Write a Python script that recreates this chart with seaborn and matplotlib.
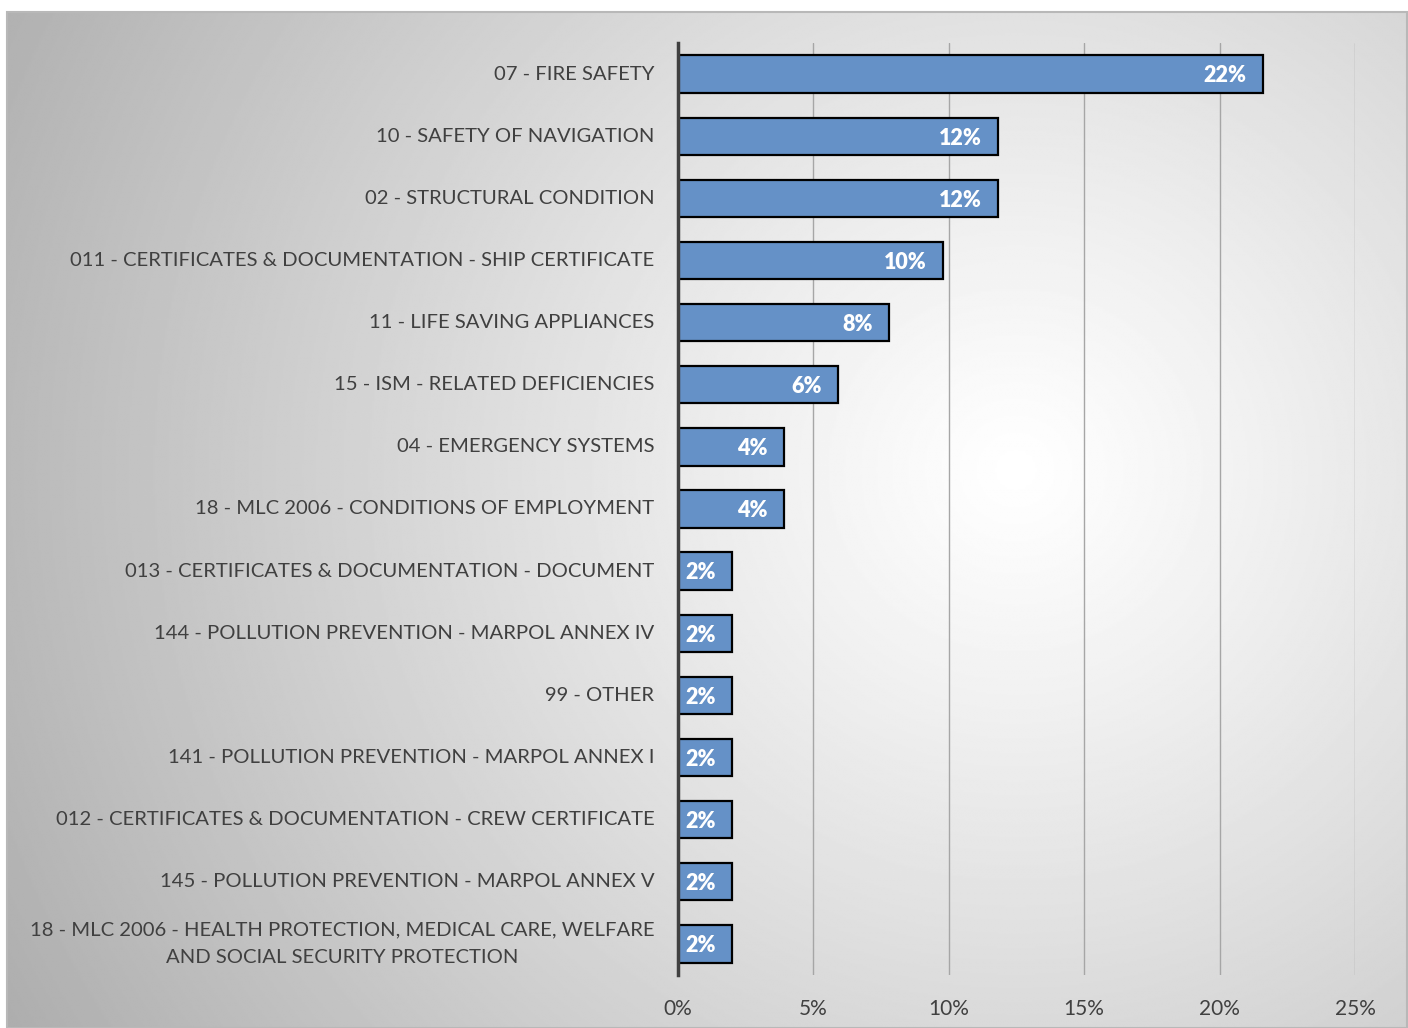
import numpy as np
import pandas as pd
import matplotlib
matplotlib.use("Agg")
import matplotlib.pyplot as plt
import seaborn as sns
from matplotlib.patches import Rectangle
from matplotlib.ticker import PercentFormatter

# categorias y porcentaje de deficiencias
categorias = [
    "07 - FIRE SAFETY",
    "10 - SAFETY OF NAVIGATION",
    "02 - STRUCTURAL CONDITION",
    "011 - CERTIFICATES & DOCUMENTATION - SHIP CERTIFICATE",
    "11 - LIFE SAVING APPLIANCES",
    "15 - ISM - RELATED DEFICIENCIES",
    "04 - EMERGENCY SYSTEMS",
    "18 - MLC 2006 - CONDITIONS OF EMPLOYMENT",
    "013 - CERTIFICATES & DOCUMENTATION - DOCUMENT",
    "144 - POLLUTION PREVENTION - MARPOL ANNEX IV",
    "99 - OTHER",
    "141 - POLLUTION PREVENTION - MARPOL ANNEX I",
    "012 - CERTIFICATES & DOCUMENTATION - CREW CERTIFICATE",
    "145 - POLLUTION PREVENTION - MARPOL ANNEX V",
    "18 - MLC 2006 - HEALTH PROTECTION, MEDICAL CARE, WELFARE\nAND SOCIAL SECURITY PROTECTION",
]
porcentajes = [21.6, 11.8, 11.8, 9.8, 7.8, 5.9, 3.9, 3.9, 2.0, 2.0, 2.0, 2.0, 2.0, 2.0, 2.0]
ticks_x = [0, 5, 10, 15, 20, 25]

df = pd.DataFrame({"categoria": categorias, "pct": porcentajes})

sns.set_theme(style="white")
plt.rcParams["font.family"] = ["Lato", "DejaVu Sans"]
gris = "#404040"

fig = plt.figure(figsize=(14.08, 10.28), dpi=100)
W, H = 1408, 1028

# fondo con degradado radial
bg = fig.add_axes([7 / W, 0, 1400 / W, 1 - 12 / H], zorder=-10)
yy, xx = np.mgrid[0:600, 0:800]
cx, cy = 0.72 * 800, 0.45 * 600
r = np.sqrt(((xx - cx) / 800) ** 2 + ((yy - cy) / 600 * 0.75) ** 2)
val = 1.0 - 0.32 * (r / r.max()) ** 1.1
val = np.clip(val, 0, 1)
bg.imshow(val, cmap="gray", vmin=0, vmax=1, aspect="auto", interpolation="bilinear")
bg.set_axis_off()
fig.patches.append(Rectangle((7 / W, 0), 1400 / W, 1 - 12 / H, transform=fig.transFigure,
                             fill=False, edgecolor="#b8b8b8", linewidth=1.5, zorder=-5))

ax = fig.add_axes([678 / W, 1 - 975 / H, (1355 - 678) / W, (975 - 43) / H])
ax.patch.set_alpha(0)

sns.barplot(data=df, x="pct", y="categoria", orient="h", color="#6591C7", saturation=1,
            edgecolor="black", linewidth=1.6, width=0.6, ax=ax, zorder=3)

ax.set_xlim(0, 25)
ax.set_xticks(ticks_x)
ax.xaxis.set_major_formatter(PercentFormatter(decimals=0))
ax.grid(axis="x", color="#a6a6a6", linewidth=1, zorder=0)
ax.set_axisbelow(True)
ax.set_xlabel("")
ax.set_ylabel("")
for s in ["top", "right", "bottom"]:
    ax.spines[s].set_visible(False)
ax.spines["left"].set_color(gris)
ax.spines["left"].set_linewidth(2.5)
ax.spines["left"].set_zorder(5)

ax.tick_params(axis="y", length=0, pad=17, labelsize=14.6, labelcolor=gris)
ax.tick_params(axis="x", length=0, pad=17, labelsize=15, labelcolor=gris)
for lbl in ax.get_yticklabels():
    lbl.set_multialignment("center")
    lbl.set_linespacing(1.75)
    x0, y0 = lbl.get_position()
for lbl in ax.get_yticklabels():
    lbl.set_va("center")

for i, v in enumerate(porcentajes):
    ax.text(v - 0.6, i + 0.03, f"{v:.0f}%", ha="right", va="center",
            color="white", fontsize=15.5, fontweight="heavy", zorder=6)

fig.savefig("out.png", dpi=100)
